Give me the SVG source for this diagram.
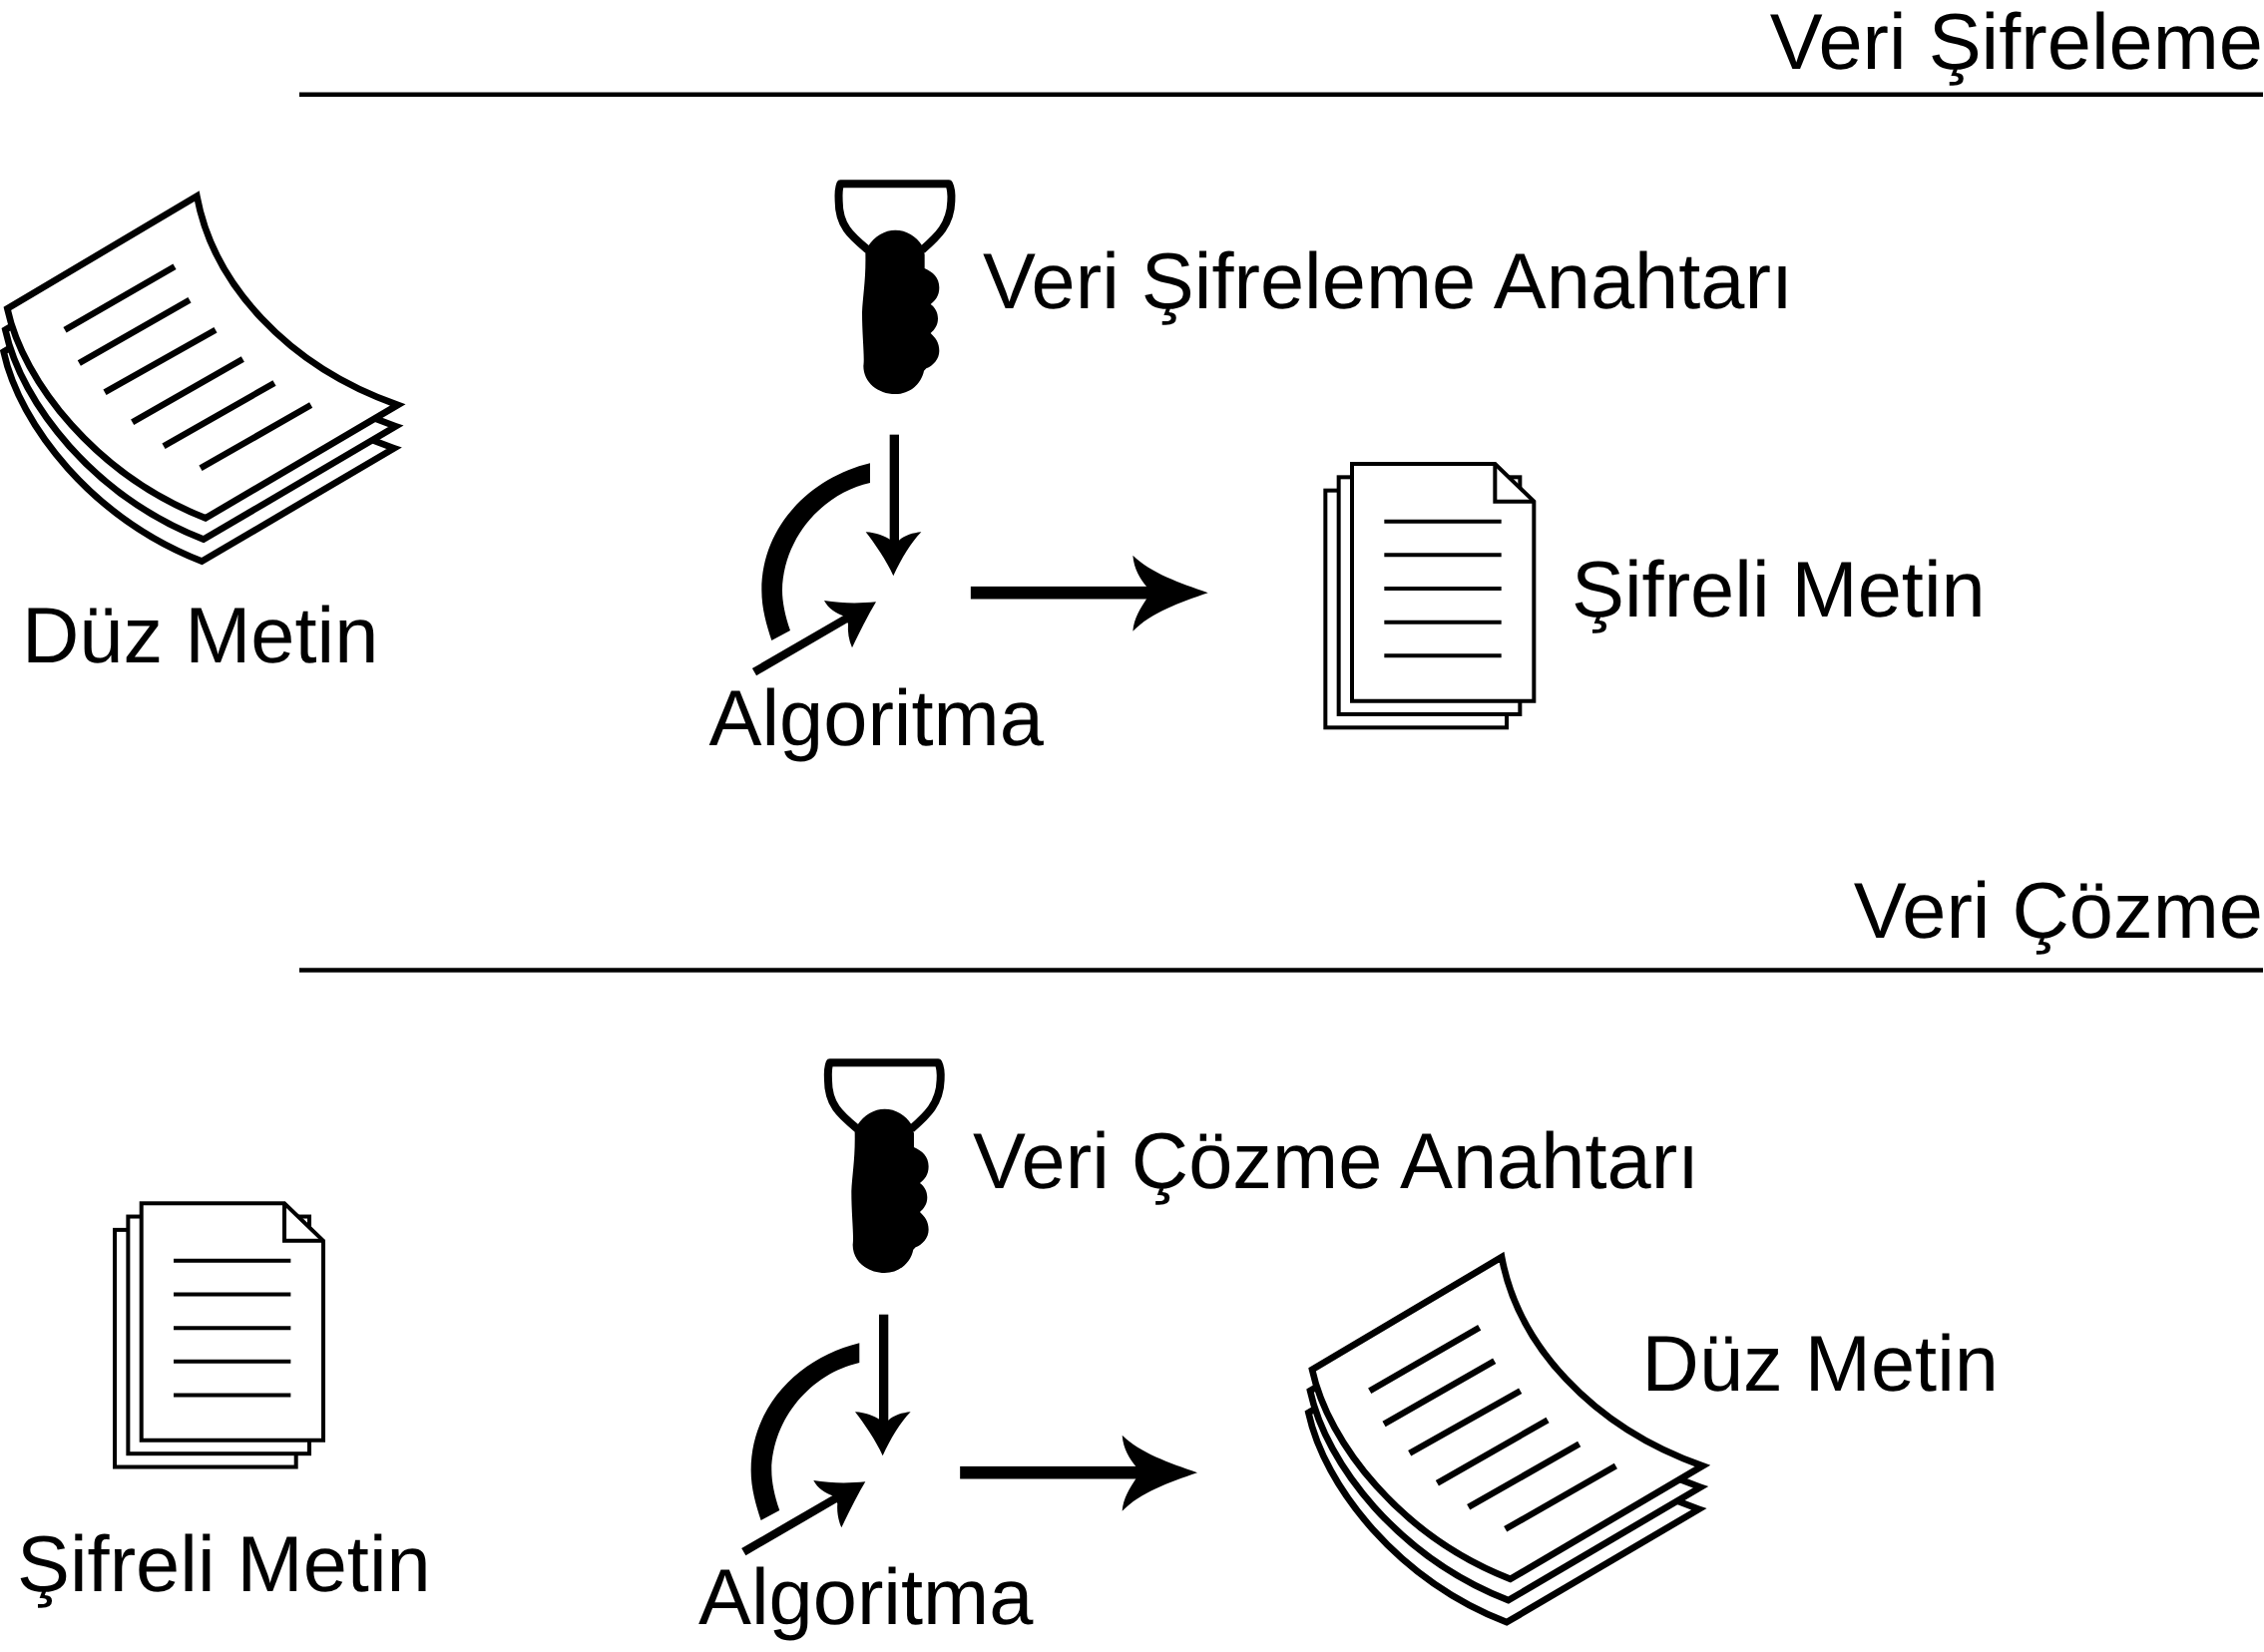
<svg xmlns="http://www.w3.org/2000/svg" xmlns:xlink="http://www.w3.org/1999/xlink" width="2269" height="1656" viewBox="0 0 2269 1656">
<style>
text{font-family:"Liberation Sans",Arial,sans-serif;font-size:79.4px;fill:#000;text-rendering:geometricPrecision}
.ln{fill:none;stroke:#000;stroke-width:4.5}
.ps{fill:#fff;stroke:#000;stroke-width:20;stroke-linejoin:miter;stroke-miterlimit:10}
.pl{fill:none;stroke:#000;stroke-width:19}
.ds{fill:#fff;stroke:#000;stroke-width:12;stroke-linejoin:miter}
.dl{fill:none;stroke:#000;stroke-width:12}
</style>
<defs>
<path id="sheet" d="M22,418L592,80C640,340 860,590 1196,708L618,1048C290,920 70,640 22,418Z"/>
<g id="paper" transform="translate(0,170) scale(.33333)">
<use href="#sheet" class="ps" transform="translate(-11,130)"/>
<use href="#sheet" class="ps" transform="translate(-6,64)"/>
<use href="#sheet" class="ps"/>
<path class="pl" d="M195,482L525,292M238,582L570,392M315,670L648,482M398,760L730,570M492,832L825,642M603,898L935,708"/>
</g>
<g id="doc" transform="translate(1290,440) scale(.33333)">
<rect class="ds" x="115" y="155" width="545" height="713"/>
<rect class="ds" x="155" y="115" width="545" height="713"/>
<path class="ds" d="M195,75H625L742,188V788H195Z"/>
<path class="dl" d="M625,75V188H742M292,248H644M292,349H644M292,450H644M292,551H644M292,652H644"/>
</g>
<g id="key" transform="translate(820,170) scale(.33333)">
<path fill="none" stroke="#000" stroke-width="24" stroke-linejoin="round" d="M150,242C100,200 62,170 62,95Q60,60 67,43H393Q402,60 400,95C398,165 360,200 312,242"/>
<path fill="#000" d="M150,230C170,200 200,182 232,182C265,182 295,200 312,228L320,255V297C345,308 364,325 364,355C364,380 352,395 338,405C352,415 360,430 360,448C360,468 350,482 338,492C352,505 364,520 364,545C364,570 345,590 325,598L318,605C310,645 275,675 232,675C180,675 136,640 136,590C140,565 132,500 132,430C134,380 144,330 142,250Z"/>
</g>
<g id="flow">
<g transform="translate(740,440) scale(.33333)">
<rect x="455" y="-13" width="28" height="325"/>
<path d="M466,412C445,365 410,315 383,280C415,282 440,292 460,305H483C500,290 525,282 550,280C520,310 490,360 466,412Z"/>
<path d="M48,701L325,540" fill="none" stroke="#000" stroke-width="25"/>
<path d="M414,490C365,495 310,495 258,486C270,510 295,525 315,532L330,556C328,580 332,605 342,628C365,580 390,530 414,490Z"/>
</g>
<g transform="translate(700,160) scale(.35714,.394)">
<rect x="764" y="1086" width="500" height="32"/>
<path d="M1430,1102C1350,1077 1270,1052 1219,1007C1222,1042 1240,1067 1258,1087V1117C1240,1142 1222,1167 1219,1200C1270,1152 1350,1127 1430,1102Z"/>
</g>
</g>
<path id="arc" transform="translate(740,440) scale(.33333)" d="M396,73C220,115 70,260 70,455C70,510 85,560 100,606L156,576C140,530 132,490 132,455C135,300 250,165 396,132Z"/>
</defs>

<g id="header-encrypt">
<text x="2268" y="69" text-anchor="end">Veri Şifreleme</text>
<line class="ln" x1="300" y1="94.7" x2="2268" y2="94.7"/>
</g>
<g id="header-decrypt">
<text x="2268" y="940" text-anchor="end">Veri Çözme</text>
<line class="ln" x1="300" y1="972.4" x2="2268" y2="972.4"/>
</g>

<g id="plaintext-in"><use href="#paper"/><text x="22" y="664">Düz Metin</text></g>
<g id="encrypt-key"><use href="#key"/><text x="985" y="309">Veri Şifreleme Anahtarı</text></g>
<g id="encrypt-algo"><use href="#arc"/><text x="710.5" y="747">Algoritma</text></g>
<g id="ciphertext-out"><use href="#doc"/><text x="1575" y="618">Şifreli Metin</text></g>

<g id="ciphertext-in"><use href="#doc" transform="translate(-1213.3,741.2)"/><text x="17" y="1595">Şifreli Metin</text></g>
<g id="decrypt-key"><use href="#key" transform="translate(-10.7,881)"/><text x="975" y="1191">Veri Çözme Anahtarı</text></g>
<g id="decrypt-algo"><use href="#arc" transform="translate(-10.7,882)"/><text x="700" y="1628">Algoritma</text></g>
<g id="plaintext-out"><use href="#paper" transform="translate(1307.7,1063.5)"/><text x="1645.6" y="1394">Düz Metin</text></g>

<g id="connectors">
<use href="#flow"/>
<use href="#flow" transform="translate(-10.7,882)"/>
</g>
</svg>
